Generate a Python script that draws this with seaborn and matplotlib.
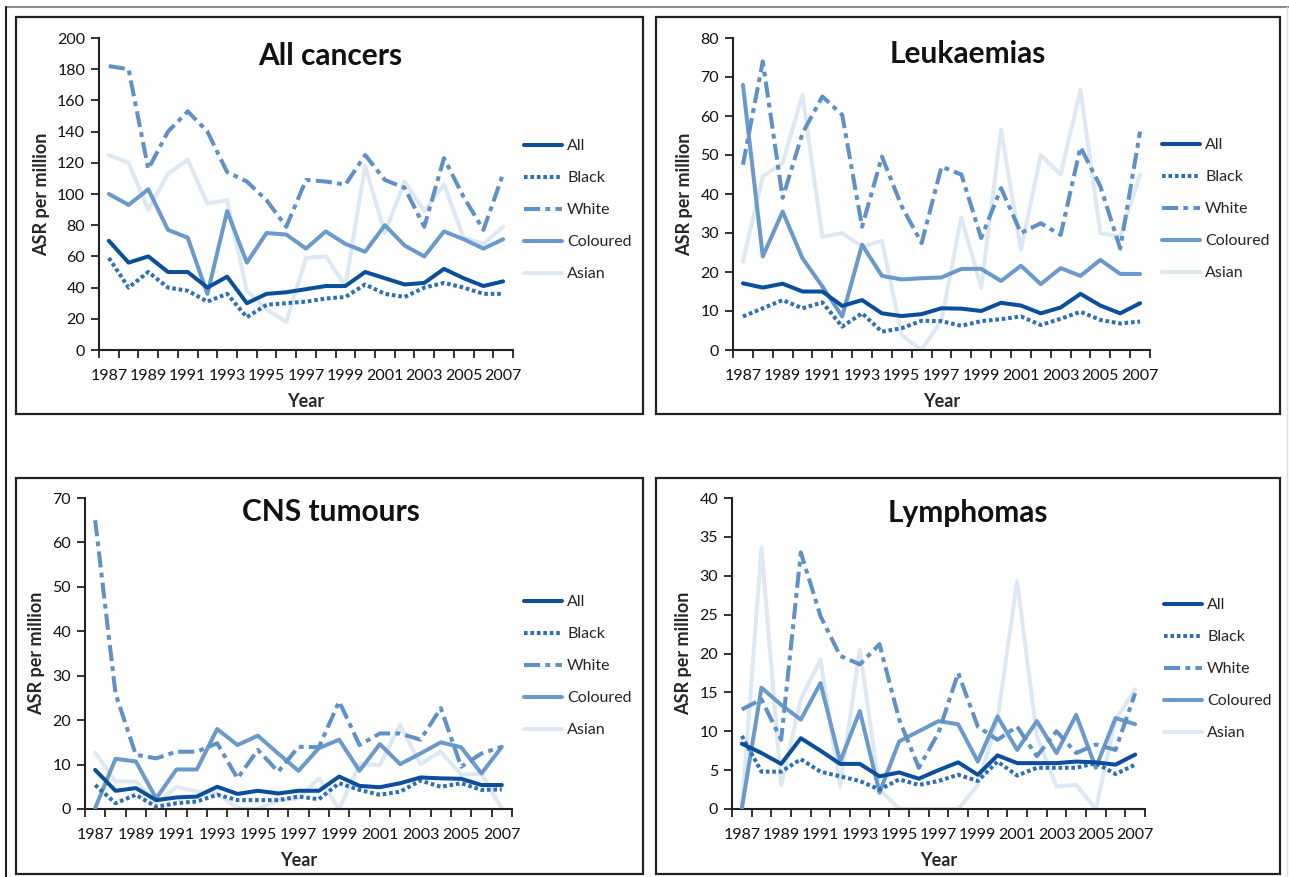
import numpy as np
import pandas as pd
import matplotlib
matplotlib.use("Agg")
import matplotlib.pyplot as plt
from matplotlib.lines import Line2D
from matplotlib.patches import Rectangle
import seaborn as sns

years = list(range(1987, 2008))
groups = ["All", "Black", "White", "Coloured", "Asian"]

# All cancers
allc_all = [70, 56, 60, 50, 50, 40, 47, 30, 36, 37, 39, 41, 41, 50, 46, 42, 43, 52, 46, 41, 44]
allc_black = [59, 40, 50, 40, 38, 31, 36, 21, 29, 30, 31, 33, 34, 42, 36, 34, 40, 43, 40, 36, 36]
allc_white = [182, 180, 116, 140, 153, 140, 114, 108, 96, 79, 109, 108, 106, 125, 109, 104, 79, 123, 98, 77, 113]
allc_coloured = [100, 93, 103, 77, 72, 36, 89, 56, 75, 74, 65, 76, 68, 63, 80, 67, 60, 76, 71, 65, 71]
allc_asian = [125, 120, 90, 113, 122, 94, 96, 38, 26, 18, 59, 60, 41, 118, 75, 108, 89, 106, 72, 68, 79]

# Leukaemias
leuk_all = [17.1, 16, 17, 15, 15, 11.3, 12.8, 9.4, 8.7, 9.2, 10.7, 10.6, 10, 12.1, 11.4, 9.4, 10.9, 14.4, 11.4, 9.4, 12]
leuk_black = [8.6, 10.7, 12.8, 10.7, 12.2, 6, 9.4, 4.7, 5.6, 7.5, 7.4, 6.2, 7.4, 7.9, 8.6, 6.4, 8, 9.8, 7.7, 6.8, 7.3]
leuk_white = [47.5, 74, 39, 55.6, 65, 60.3, 31.6, 49.6, 36.8, 27.4, 47, 45, 28.7, 41.5, 30, 32.5, 29.5, 52, 42, 26, 56]
leuk_coloured = [68, 24, 35.5, 23.5, 16.3, 8.6, 27, 19, 18.1, 18.4, 18.6, 20.8, 20.8, 17.7, 21.6, 16.9, 21, 19, 23.1, 19.5, 19.5]
leuk_asian = [22.7, 44.5, 48, 65.4, 29, 30, 26.5, 28, 3.8, 0, 7.7, 34, 16, 56.5, 25.7, 50, 45, 66.7, 30, 29, 45]

# CNS tumours
cns_all = [8.8, 4.1, 4.7, 2.0, 2.6, 2.8, 5.0, 3.4, 4.1, 3.5, 4.1, 4.1, 7.3, 5.2, 4.9, 5.8, 7.1, 6.9, 6.8, 5.4, 5.4]
cns_black = [5.4, 1.3, 3.2, 0.5, 1.3, 1.7, 3.2, 2, 2, 2, 2.8, 2.2, 5.8, 4.3, 3.2, 3.9, 6.4, 5.0, 5.8, 4.3, 4.4]
cns_white = [65, 26, 12.2, 11.4, 12.9, 12.9, 14.8, 6.9, 13.3, 8.4, 14, 13.9, 24.2, 14.4, 17, 17, 15.6, 22.7, 9.5, 12.5, 14]
cns_coloured = [0.2, 11.3, 10.7, 2.4, 8.9, 8.9, 18, 14.4, 16.5, 12.5, 8.6, 13.7, 15.6, 8.6, 14.6, 10.1, 12.5, 15, 13.9, 8.0, 14]
cns_asian = [12.7, 6.2, 6.2, 1.3, 5, 3.9, 3.5, 0.2, 0, 2, 2.4, 6.9, 0, 10.1, 9.9, 18.9, 10.1, 12.9, 7.7, 8, 0]

# Lymphomas
lym_all = [8.4, 7.2, 5.8, 9.1, 7.5, 5.8, 5.8, 4.2, 4.7, 3.9, 5.0, 6.0, 4.4, 6.9, 5.9, 5.9, 5.9, 6.1, 6.0, 5.7, 7.0]
lym_black = [9.4, 4.8, 4.8, 6.4, 4.8, 4.2, 3.6, 2.5, 3.8, 3.1, 3.6, 4.4, 3.6, 6.1, 4.3, 5.3, 5.3, 5.3, 5.9, 4.5, 5.7]
lym_white = [12.8, 14.1, 8.9, 33, 24.8, 19.7, 18.6, 21.2, 11.5, 5.3, 9.8, 17.5, 10.6, 8.9, 10.6, 6.8, 10, 7.2, 8.3, 7.6, 14.9]
lym_coloured = [0.1, 15.6, 13.4, 11.5, 16.2, 6.1, 12.6, 2.1, 8.7, 10, 11.3, 10.9, 6.1, 11.9, 7.6, 11.3, 7.2, 12.1, 5.3, 11.7, 10.9]
lym_asian = [0, 33.6, 3.1, 14.1, 19.2, 2.9, 20.5, 2.5, 0, 0, 0, 0, 3.1, 11.5, 29.3, 9.4, 2.9, 3.1, 0, 11.5, 15.4]

titles = ["All cancers", "Leukaemias", "CNS tumours", "Lymphomas"]
series = [
    [allc_all, allc_black, allc_white, allc_coloured, allc_asian],
    [leuk_all, leuk_black, leuk_white, leuk_coloured, leuk_asian],
    [cns_all, cns_black, cns_white, cns_coloured, cns_asian],
    [lym_all, lym_black, lym_white, lym_coloured, lym_asian],
]
ymaxes = [200, 80, 70, 40]
ysteps = [20, 10, 10, 5]

colors = {"All": "#0b4f9c", "Black": "#2f6fb4", "White": "#5d91c7",
          "Coloured": "#6a9acb", "Asian": "#dde8f3"}
styles = {"All": "-", "Black": (0, (0.9, 0.7)), "White": (0, (4.0, 1.3, 1.2, 1.3)),
          "Coloured": "-", "Asian": "-"}
zorders = {"All": 6, "Black": 5, "White": 4, "Coloured": 3, "Asian": 2}

sns.set_style("white")
plt.rcParams["font.family"] = ["Lato", "DejaVu Sans"]

W, H = 1289, 877
fig = plt.figure(figsize=(W / 100, H / 100), dpi=100)

def frac(x0, y0, x1, y1):
    return [x0 / W, 1 - y1 / H, (x1 - x0) / W, (y1 - y0) / H]

# page lines
fig.add_artist(Line2D([6 / W, 1], [1 - 7 / H, 1 - 7 / H], color="#8c8c8c", lw=1.5))
fig.add_artist(Line2D([6 / W, 6 / W], [0, 1 - 7 / H], color="#222222", lw=1.5))
fig.add_artist(Line2D([1287 / W, 1287 / W], [0, 1 - 7 / H], color="#dddddd", lw=1))

axes_px = [(99, 38, 513, 350), (733, 38, 1150, 350), (85, 498, 512, 809), (732, 498, 1145, 809)]
boxes_px = [(16, 17, 643, 414), (656, 17, 1280, 414), (16, 478, 643, 874), (656, 478, 1280, 874)]
legend_px = [(524, 139), (1162, 138), (524, 595), (1164, 598)]
title_px = [(330, 65), (968, 63), (331, 521), (968, 522)]

for k in range(4):
    bx = boxes_px[k]
    fig.add_artist(Rectangle((bx[0] / W, 1 - bx[3] / H), (bx[2] - bx[0]) / W, (bx[3] - bx[1]) / H,
                             fill=False, edgecolor="#222222", lw=1.6, transform=fig.transFigure))
    ax = fig.add_axes(frac(*axes_px[k]))
    df = pd.DataFrame({"Year": years})
    for g, vals in zip(groups, series[k]):
        df[g] = vals
    for g in groups:
        sns.lineplot(data=df, x="Year", y=g, ax=ax, color=colors[g], linestyle=styles[g],
                     linewidth=2.9, zorder=zorders[g], label=g)
    ax.set_xlim(1986.5, 2007.5)
    ax.set_ylim(0, ymaxes[k])
    ax.set_yticks(np.arange(0, ymaxes[k] + 0.1, ysteps[k]))
    ax.set_xticks(years[::2])
    ax.set_xticks(np.arange(1986.5, 2008, 1), minor=True)
    ax.tick_params(axis="x", which="major", length=0, pad=14, labelsize=11.5, colors="#111111")
    ax.tick_params(axis="x", which="minor", length=6, width=1.3, direction="out", color="#222222", bottom=True)
    ax.tick_params(axis="y", length=6, width=1.3, direction="out", labelsize=11.5, colors="#222222",
                   labelcolor="#111111", left=True, pad=4)
    for s in ["top", "right"]:
        ax.spines[s].set_visible(False)
    for s in ["left", "bottom"]:
        ax.spines[s].set_color("#222222")
        ax.spines[s].set_linewidth(1.5)
    ax.set_xlabel("Year", fontsize=13, fontweight="bold", labelpad=7)
    ax.set_ylabel("ASR per million", fontsize=13, fontweight="bold", labelpad=5)
    tx, ty = title_px[k]
    fig.text(tx / W, 1 - ty / H, titles[k], ha="center", va="baseline",
             fontsize=21.5, fontweight="bold", color="#111111")
    handles = [Line2D([], [], color=colors[g], linestyle=styles[g], linewidth=2.9) for g in groups]
    lx, ly = legend_px[k]
    ax.legend(handles, groups, loc="upper left", bbox_to_anchor=(lx / W, 1 - ly / H),
              bbox_transform=fig.transFigure, frameon=False, fontsize=11.5,
              handlelength=2.4, handletextpad=0.3, labelspacing=1.12, borderpad=0,
              borderaxespad=0)

fig.savefig("out.png", dpi=100)
